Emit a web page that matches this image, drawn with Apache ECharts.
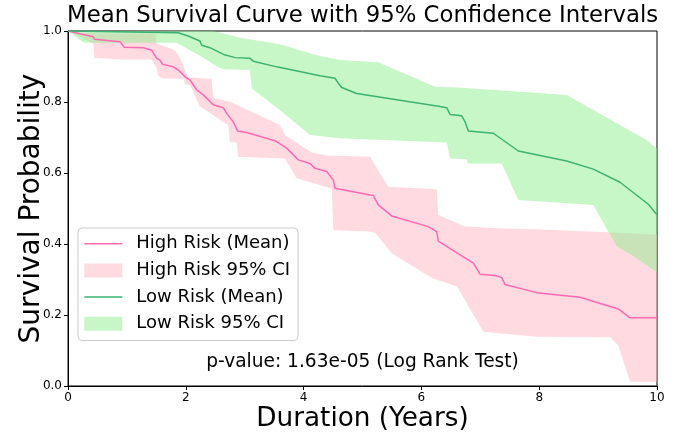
<!DOCTYPE html>
<html>
<head>
<meta charset="utf-8">
<script src="https://cdn.jsdelivr.net/npm/echarts@6/dist/echarts.min.js"></script>
<style>
  html, body { margin: 0; padding: 0; background: #fff; }
  #chart { width: 683px; height: 432px; }
</style>
</head>
<body>
<div id="chart"></div>
<script>
// mean survival curves, [years, probability]
var highMean = [
  [0, 1.0], [0.43, 0.984], [0.447, 0.977], [0.883, 0.970], [0.956, 0.954], [1.278, 0.953],
  [1.421, 0.946], [1.506, 0.923], [1.562, 0.918], [1.608, 0.906], [1.788, 0.899], [1.873, 0.890],
  [1.986, 0.871], [2.071, 0.862], [2.185, 0.834], [2.297, 0.820], [2.467, 0.792], [2.637, 0.784],
  [2.694, 0.768], [2.806, 0.744], [2.881, 0.718], [3.034, 0.714], [3.514, 0.691], [3.713, 0.670],
  [3.910, 0.637], [4.109, 0.627], [4.194, 0.613], [4.392, 0.604], [4.505, 0.580], [4.533, 0.557],
  [5.127, 0.538], [5.183, 0.537], [5.268, 0.510], [5.496, 0.479], [6.117, 0.449], [6.260, 0.435],
  [6.287, 0.408], [6.881, 0.346], [6.995, 0.315], [7.250, 0.311], [7.363, 0.306], [7.419, 0.286],
  [7.958, 0.263], [8.693, 0.250], [9.343, 0.217], [9.542, 0.192], [10, 0.192]
];
var lowMean = [
  [0, 1.0], [1.87, 0.995], [2.04, 0.986], [2.24, 0.972], [2.27, 0.960], [2.41, 0.953],
  [2.64, 0.934], [2.84, 0.925], [3.09, 0.923], [3.146, 0.915], [3.543, 0.899], [4.278, 0.874],
  [4.533, 0.867], [4.589, 0.853], [4.647, 0.841], [4.902, 0.824], [6.316, 0.787], [6.43, 0.784],
  [6.486, 0.765], [6.684, 0.761], [6.74, 0.745], [6.797, 0.718], [7.221, 0.712], [7.646, 0.662],
  [8.467, 0.634], [8.919, 0.611], [9.372, 0.574], [9.853, 0.512], [10, 0.482]
];

// 95% CI bounds
var highUpper = [
  [0, 1.0], [0.204, 0.994], [1.489, 0.992], [1.506, 0.965], [1.817, 0.946], [1.902, 0.924],
  [2.037, 0.870], [2.440, 0.865], [2.467, 0.811], [2.750, 0.801], [3.599, 0.735], [3.684, 0.707],
  [4.138, 0.658], [4.392, 0.649], [5.127, 0.646], [5.438, 0.561], [6.260, 0.554], [6.287, 0.482],
  [6.740, 0.449], [7.385, 0.444], [8.014, 0.441], [10, 0.427]
];
var highLower = [
  [0, 1.0], [0.433, 0.965], [0.447, 0.924], [0.934, 0.920], [1.421, 0.920], [1.506, 0.895],
  [1.523, 0.876], [1.591, 0.867], [1.958, 0.865], [1.986, 0.850], [2.071, 0.848], [2.241, 0.787],
  [2.411, 0.769], [2.637, 0.744], [2.722, 0.735], [2.750, 0.688], [2.864, 0.685], [2.886, 0.646],
  [3.684, 0.641], [3.883, 0.585], [4.165, 0.571], [4.477, 0.557], [4.504, 0.439], [5.127, 0.435],
  [5.212, 0.432], [5.496, 0.374], [6.180, 0.304], [6.605, 0.280], [7.051, 0.153], [7.958, 0.139],
  [9.202, 0.137], [9.343, 0.114], [9.542, 0.012], [10, 0.012]
];
var lowUpper = [
  [0, 1.0], [2.467, 1.0], [2.920, 0.981], [3.599, 0.963], [4.222, 0.932], [4.618, 0.918],
  [5.268, 0.912], [6.231, 0.843], [6.684, 0.840], [8.467, 0.820], [9.830, 0.692], [10, 0.668]
];
var lowLower = [
  [0, 1.0], [0.272, 0.967], [1.846, 0.967], [2.297, 0.925], [2.525, 0.901], [2.637, 0.892],
  [3.090, 0.890], [3.119, 0.839], [3.628, 0.773], [4.109, 0.707], [4.618, 0.698], [6.430, 0.686],
  [6.486, 0.641], [6.769, 0.639], [6.797, 0.627], [7.363, 0.627], [7.645, 0.524], [8.919, 0.510],
  [9.316, 0.394], [9.598, 0.366], [10, 0.320]
];

var xTicks = [0, 2, 4, 6, 8, 10];
var pText = 'p-value: 1.63e-05 (Log Rank Test)';

var font = 'DejaVu Sans';
// thin horizontal line in a 38x14 box (corner dots keep the box size)
var lineIcon = 'path://M0,0h0.01v0.01h-0.01z M0,6.25h38v1.5h-38z M37.99,13.99h0.01v0.01h-0.01z';

// band polygon: upper edge forward, lower edge back
function bandRenderer(upper, lower) {
  return function (params, api) {
    var pts = [];
    upper.forEach(function (p) { pts.push(api.coord(p)); });
    lower.slice().reverse().forEach(function (p) { pts.push(api.coord(p)); });
    return {
      type: 'polygon',
      shape: { points: pts },
      style: { fill: api.visual('color'), stroke: null }
    };
  };
}

var chart = echarts.init(document.getElementById('chart'), null, { renderer: 'canvas' });

chart.setOption({
  animation: false,
  textStyle: { fontFamily: font },
  title: {
    text: 'Mean Survival Curve with 95% Confidence Intervals',
    left: 67,
    top: 5,
    padding: 0,
    textStyle: { fontFamily: font, fontSize: 22.8, fontWeight: 'normal', color: '#000' }
  },
  grid: {
    left: 68, right: 26, top: 31, bottom: 46,
    outerBoundsMode: 'none',
    containLabel: false,
    show: true, borderColor: '#000', borderWidth: 1, backgroundColor: 'transparent'
  },
  legend: {
    left: 78,
    top: 228,
    orient: 'vertical',
    itemWidth: 38,
    itemHeight: 14,
    itemGap: 8.7,
    padding: [6.7, 8, 7.7, 6.3],
    borderColor: '#cccccc',
    borderWidth: 1,
    borderRadius: 4,
    backgroundColor: 'rgba(255,255,255,0.8)',
    textStyle: { fontFamily: font, fontSize: 18, color: '#000', lineHeight: 18, padding: [0, 0, 0, 9] },
    data: [
      { name: 'High Risk (Mean)', icon: lineIcon },
      { name: 'High Risk 95% CI', icon: 'rect' },
      { name: 'Low Risk (Mean)', icon: lineIcon },
      { name: 'Low Risk 95% CI', icon: 'rect' }
    ]
  },
  xAxis: {
    type: 'value',
    min: 0, max: 10, interval: 2,
    name: 'Duration (Years)',
    nameLocation: 'middle',
    nameGap: 20,
    nameMoveOverlap: false,
    nameTextStyle: { fontFamily: font, fontSize: 26.3, color: '#000' },
    axisLine: { lineStyle: { color: '#000', width: 1 } },
    axisTick: { length: 4, lineStyle: { color: '#000' } },
    axisLabel: {
      margin: 6, fontFamily: font, fontSize: 12, color: '#000',
      customValues: xTicks, formatter: function (v) { return String(v); }
    },
    splitLine: { show: false }
  },
  yAxis: {
    type: 'value',
    min: 0, max: 1, interval: 0.2,
    name: 'Survival Probability',
    nameLocation: 'middle',
    nameGap: 22,
    nameMoveOverlap: false,
    nameTextStyle: { fontFamily: font, fontSize: 28, color: '#000' },
    axisLine: { show: true, lineStyle: { color: '#000', width: 1 } },
    axisTick: { show: true, length: 4, lineStyle: { color: '#000' } },
    axisLabel: {
      margin: 6, fontFamily: font, fontSize: 12, color: '#000',
      formatter: function (v) { return v.toFixed(1); }
    },
    splitLine: { show: false }
  },
  graphic: [{
    type: 'text',
    x: 362.5,
    y: 362.5,
    z: 100,
    style: {
      text: pText, fontFamily: font, fontSize: 18.6, fill: '#000',
      align: 'center', verticalAlign: 'middle'
    }
  }],
  series: [
    {
      name: 'High Risk 95% CI',
      type: 'custom',
      clip: true,
      z: 1,
      silent: true,
      itemStyle: { color: 'rgba(255,182,193,0.5)' },
      renderItem: bandRenderer(highUpper, highLower),
      data: [[0, 1]]
    },
    {
      name: 'Low Risk 95% CI',
      type: 'custom',
      clip: true,
      z: 1,
      silent: true,
      itemStyle: { color: 'rgba(144,238,144,0.5)' },
      renderItem: bandRenderer(lowUpper, lowLower),
      data: [[0, 1]]
    },
    {
      name: 'High Risk (Mean)',
      type: 'line',
      z: 3,
      symbol: 'none',
      lineStyle: { color: '#ff69b4', width: 1.5 },
      itemStyle: { color: '#ff69b4' },
      data: highMean
    },
    {
      name: 'Low Risk (Mean)',
      type: 'line',
      z: 4,
      symbol: 'none',
      lineStyle: { color: '#3cb371', width: 1.5 },
      itemStyle: { color: '#3cb371' },
      data: lowMean
    }
  ]
});
</script>
</body>
</html>
